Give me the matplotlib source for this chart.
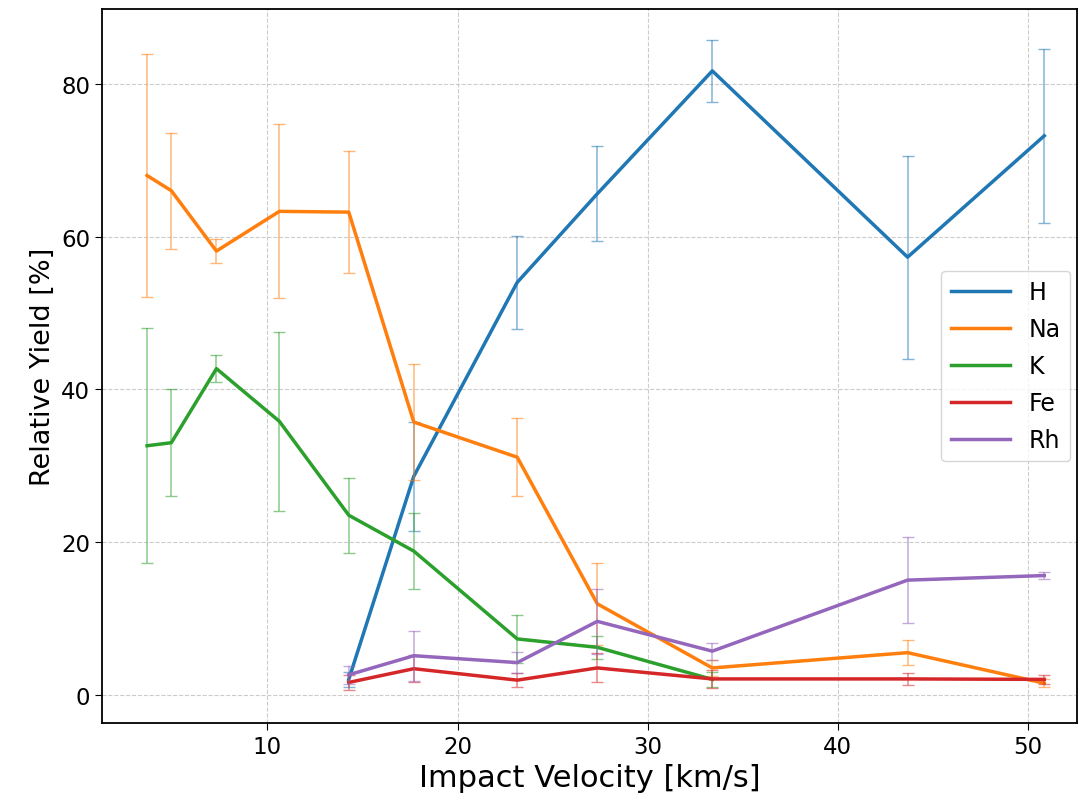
import numpy as np
from matplotlib import pyplot as plt

# impact velocities [km/s]
velocity = [3.67, 4.95, 7.32, 10.63, 14.28, 17.70, 23.14, 27.35, 33.4, 43.67, 50.86]

# relative yields [%] and their uncertainties
h_yield = [2.0, 28.6, 54.0, 65.6, 81.7, 57.3, 73.2]
h_err = [1.0, 7.1, 6.1, 6.2, 4.1, 13.3, 11.4]

na_yield = [68.0, 66.0, 58.1, 63.3, 63.2, 35.7, 31.1, 11.9, 3.5, 5.5, 1.5]
na_err = [15.9, 7.6, 1.6, 11.4, 8.0, 7.6, 5.1, 5.4, 1.0, 1.6, 0.5]

k_yield = [32.6, 33.0, 42.7, 35.8, 23.5, 18.8, 7.3, 6.2, 2.0]
k_err = [15.4, 7.0, 1.8, 11.7, 4.9, 5.0, 3.1, 1.5, 1.0]

fe_yield = [1.6, 3.4, 1.9, 3.5, 2.06, 2.06, 2.0]
fe_err = [1.0, 1.8, 0.9, 1.9, 1.2, 0.8, 0.6]

rh_yield = [2.6, 5.1, 4.2, 9.6, 5.7, 15.0, 15.6]
rh_err = [1.2, 3.3, 1.4, 4.3, 1.1, 5.6, 0.5]

series = [
    ('H', velocity[4:], h_yield, h_err, 'tab:blue'),
    ('Na', velocity, na_yield, na_err, 'tab:orange'),
    ('K', velocity[:9], k_yield, k_err, 'tab:green'),
    ('Fe', velocity[4:], fe_yield, fe_err, 'tab:red'),
    ('Rh', velocity[4:], rh_yield, rh_err, 'tab:purple'),
]

fig = plt.figure(figsize=(10.79, 8.03), dpi=100)
ax = fig.add_axes([0.0945, 0.0985, 0.904, 0.889])

for name, x, y, err, col in series:
    ax.plot(x, y, color=col, lw=2.5, label=name)
    ax.errorbar(x, y, yerr=err, fmt='none', ecolor=col, elinewidth=1.1,
                capsize=4, alpha=0.55)

ax.set_xlim(1.3, 52.6)
ax.set_ylim(-3.7, 89.8)
ax.set_xticks([10, 20, 30, 40, 50])
ax.set_yticks([0, 20, 40, 60, 80])
ax.tick_params(labelsize=16.5, length=5)
for s in ax.spines.values():
    s.set_linewidth(1.3)

ax.set_xlabel('Impact Velocity [km/s]', fontsize=22, labelpad=4)
ax.set_ylabel('Relative Yield [%]', fontsize=19.5)
ax.grid(True, linestyle='--', color='#c0c0c0', lw=0.8, alpha=0.8)
ax.legend(loc='center right', fontsize=17, handlelength=2.5,
          labelspacing=0.55, borderaxespad=0.3)

fig.savefig('out.png', dpi=100)
plt.close(fig)
